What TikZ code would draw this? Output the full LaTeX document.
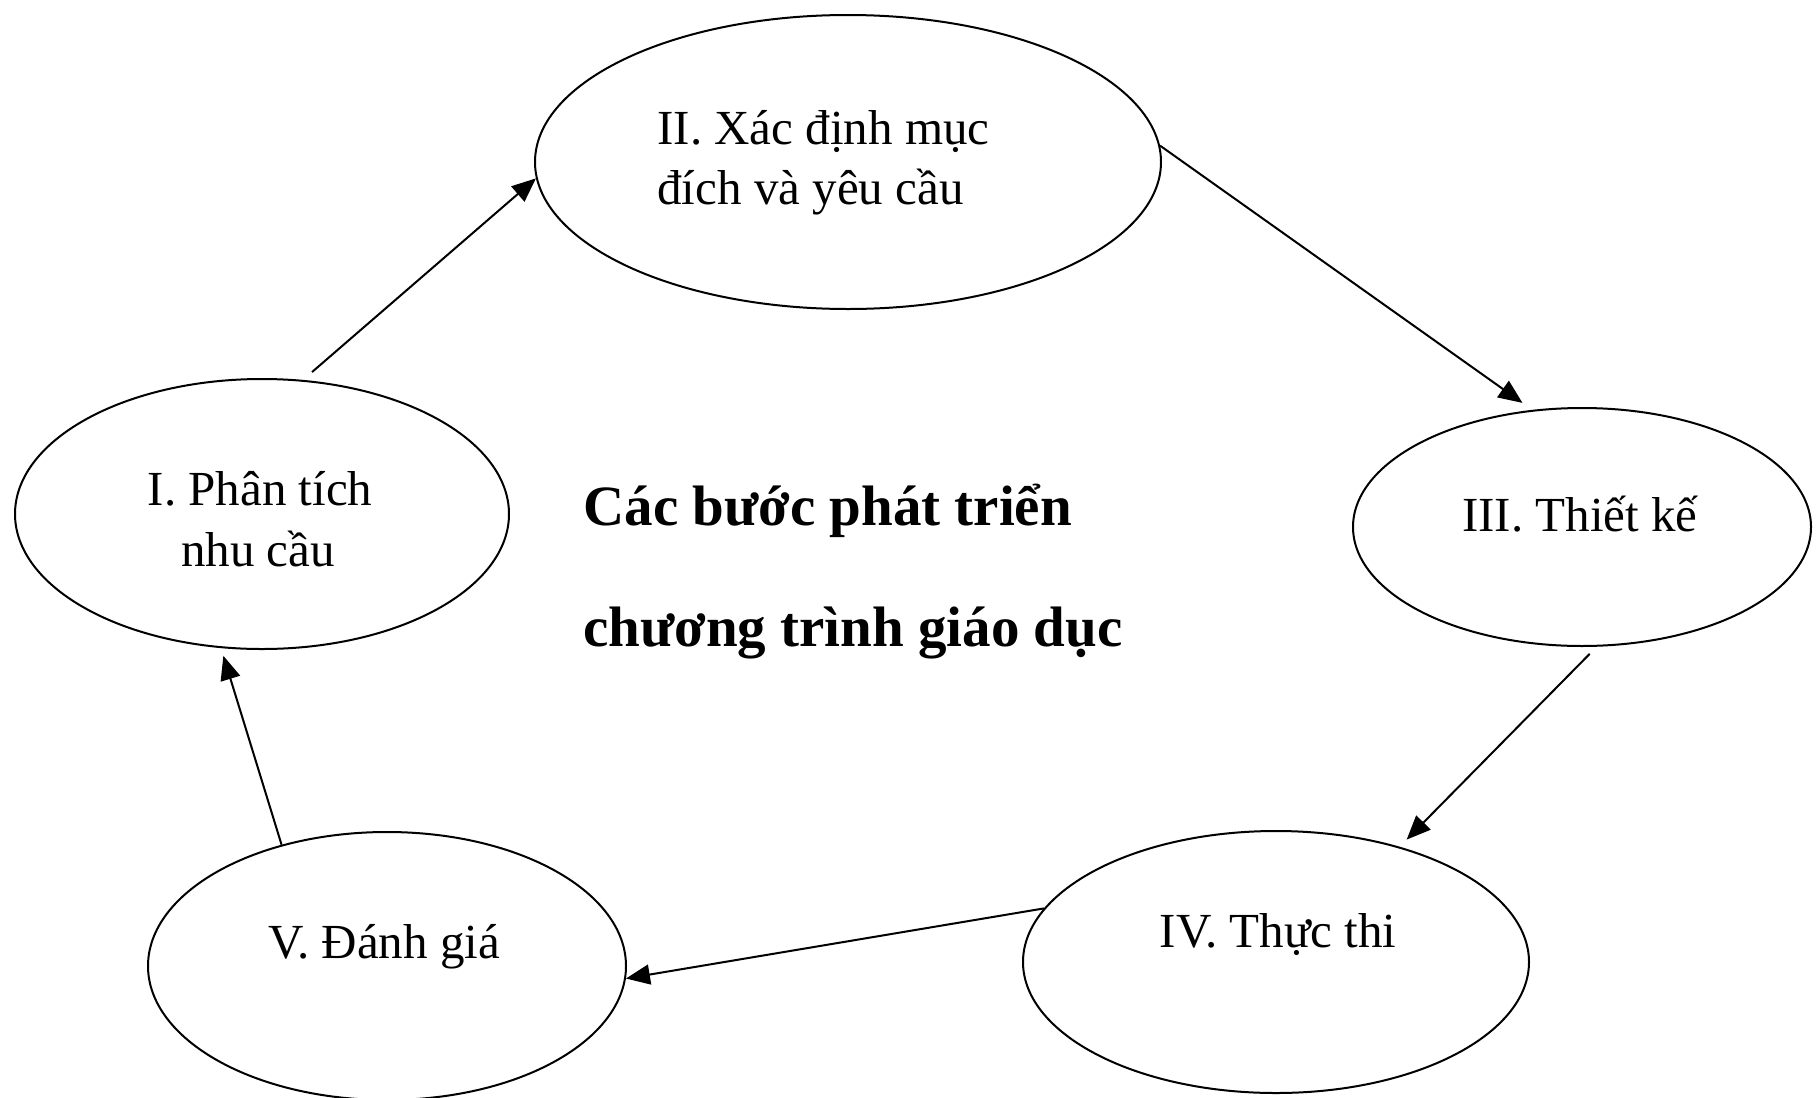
\documentclass[tikz,border=0pt]{standalone}
\usepackage{fontspec}
\setmainfont{Liberation Serif}
\usetikzlibrary{shapes.geometric,arrows.meta}
\begin{document}
\begin{tikzpicture}[x=0.5pt,y=-0.5pt,
  stage/.style={ellipse,draw,line width=1pt,inner sep=0pt},
  steptext/.style={font=\fontsize{24.5}{30}\selectfont,inner sep=0pt},
  titletext/.style={font=\fontsize{28.5}{60.5}\selectfont\bfseries,inner sep=0pt,align=left,anchor=base west},
  conn/.style={line width=1pt,-{Triangle[length=12pt,width=10pt]}}
]
\useasboundingbox (0,0) rectangle (1816,1098);
\fill[white] (0,0) rectangle (1816,1098);

% the five stages of the cycle
\node[stage,minimum width=247pt,minimum height=135pt] (e1) at (262,514) {};
\node[stage,minimum width=313pt,minimum height=147pt] (e2) at (848,162) {};
\node[stage,minimum width=229pt,minimum height=119pt] (e3) at (1582,527) {};
\node[stage,minimum width=253pt,minimum height=131pt] (e4) at (1276,962) {};
\node[stage,minimum width=239pt,minimum height=134pt] (e5) at (387,966) {};

% stage labels
\node[steptext,anchor=base] (t1a) at (260,505) {I. Phân tích};
\node[steptext,anchor=base] (t1b) at (258,566) {nhu cầu};
\node[steptext,anchor=base west] (t2a) at (657,144) {II. Xác định mục};
\node[steptext,anchor=base west] (t2b) at (657,204) {đích và yêu cầu};
\node[steptext,anchor=base] (t3) at (1580,531) {III. Thiết kế};
\node[steptext,anchor=base] (t4) at (1278,947) {IV. Thực thi};
\node[steptext,anchor=base] (t5) at (384,958) {V. Đánh giá};

% central title (base anchor sits on the last line)
\node[titletext] (title) at (583,646) {Các bước phát triển\\chương trình giáo dục};

% arrows around the cycle
\draw[conn,shorten <=6pt] (e1.73) -- (e2.183);
\draw[conn,shorten >=6pt] (e2.3) -- (e3.113);
\draw[conn,shorten <=5pt,shorten >=5pt] (e3.277) -- (e4.43);
\draw[conn] (e4.167) -- (e5.357);
\draw[conn,shorten >=4pt] (e5.131) -- (e1.253);
\end{tikzpicture}
\end{document}
